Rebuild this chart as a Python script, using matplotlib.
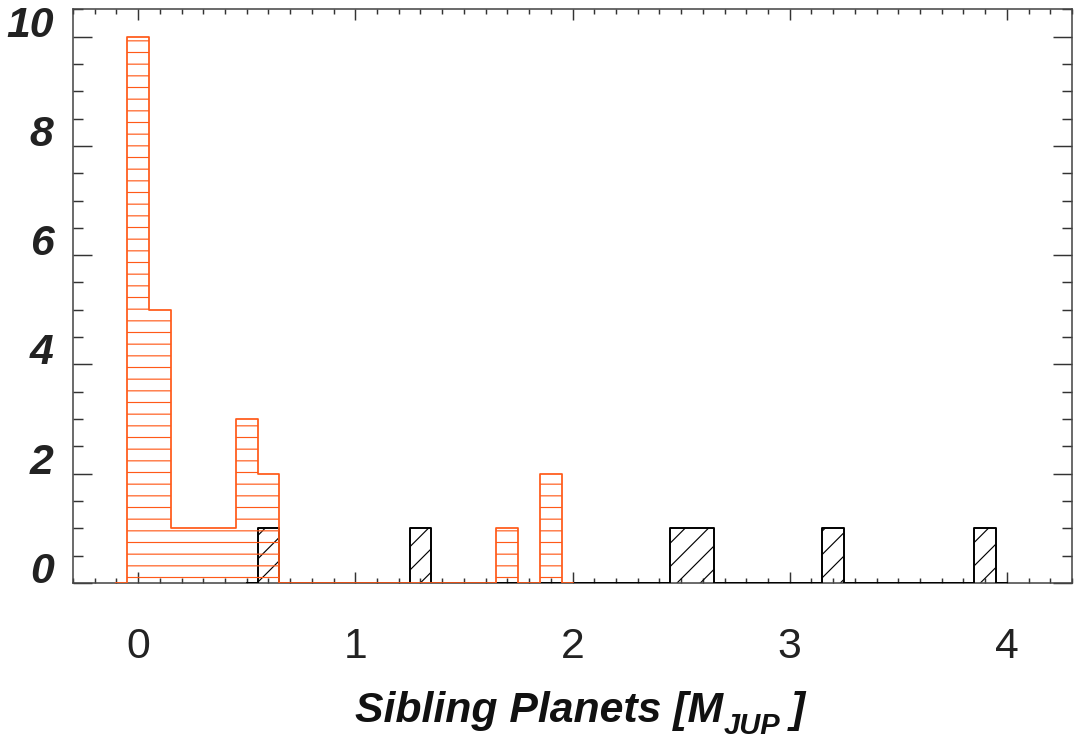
import matplotlib
matplotlib.use('Agg')
import matplotlib.pyplot as plt
import numpy as np
from matplotlib.ticker import MultipleLocator

plt.rcParams['font.family'] = ['Liberation Sans', 'DejaVu Sans']
plt.rcParams['hatch.linewidth'] = 0.6

# ---- data ----
bin_width = 0.1
orange_start = -0.1
orange_counts = [0, 10, 5, 1, 1, 1, 3, 2, 0, 0, 0, 0, 0, 0, 0, 0, 0, 0, 1, 0, 2, 0]
black_start = 0.5
black_counts = [0, 1, 0, 0, 0, 0, 0, 0, 1, 0, 0, 0, 0, 0, 0, 0, 0, 0, 0, 0,
                1, 1, 0, 0, 0, 0, 0, 1, 0, 0, 0, 0, 0, 0, 1, 0]
xtick_values = [0, 1, 2, 3, 4]
xtick_labels = ['0', '1', '2', '3', '4']
ytick_values = [0, 2, 4, 6, 8, 10]
ytick_labels = ['0', '2', '4', '6', '8', '10']
xlabel_main = 'Sibling Planets [M'
xlabel_sub = 'JUP'
xlabel_end = ' ]'

orange_x = orange_start + bin_width * np.arange(len(orange_counts))
black_x = black_start + bin_width * np.arange(len(black_counts))

ORANGE = '#FF5A19'
DPI = 140
W, H = 1077, 739
fig = plt.figure(figsize=(W / DPI, H / DPI), dpi=DPI)
ax = fig.add_axes([73 / W, 1 - 583 / H, (1072 - 73) / W, (583 - 9.3) / H])

# black histogram
ax.fill_between(black_x, black_counts, step='mid', facecolor='none',
                edgecolor='black', hatch='//', linewidth=0, zorder=2)
ax.step(black_x, black_counts, where='mid', color='black', lw=1.0, zorder=3)

# orange histogram
ax.fill_between(orange_x, orange_counts, step='mid', facecolor='none',
                edgecolor=ORANGE, hatch='--', linewidth=0, zorder=3.5)
ax.step(orange_x, orange_counts, where='mid', color=ORANGE, lw=0.9, zorder=4)

ax.set_xlim(-0.3, 4.3)
ax.set_ylim(0, 10.5)

ax.set_xticks(xtick_values)
ax.set_xticklabels(xtick_labels, fontsize=22, color='#222222')
ax.xaxis.set_minor_locator(MultipleLocator(0.1))
ax.set_yticks(ytick_values)
ax.set_yticklabels(ytick_labels, fontsize=22, fontweight='bold', fontstyle='italic',
                   color='#222222', va='baseline')
ax.yaxis.set_minor_locator(MultipleLocator(0.5))

ax.tick_params(which='both', direction='in', top=True, right=True,
               color='#333333', width=0.75)
ax.tick_params(axis='x', which='major', length=5.7, pad=22.6)
ax.tick_params(axis='x', which='minor', length=2.8)
ax.tick_params(axis='y', which='major', length=9.8, pad=10)
ax.tick_params(axis='y', which='minor', length=4.9)

for sp in ax.spines.values():
    sp.set_color('#444444')
    sp.set_linewidth(0.8)

# x-axis title with a lowered subscript, built from three text pieces
lab_kw = dict(fontweight='bold', fontstyle='italic', color='#111111', va='baseline', ha='left')
renderer = fig.canvas.get_renderer()
t1 = fig.text(355 / W, 1 - 722 / H, xlabel_main, fontsize=22, **lab_kw)
bb1 = t1.get_window_extent(renderer)
t2 = fig.text((bb1.x1 + 1) / W, 1 - 734 / H, xlabel_sub, fontsize=15, **lab_kw)
bb2 = t2.get_window_extent(renderer)
t3 = fig.text((bb2.x1 - 2) / W, 1 - 722 / H, xlabel_end, fontsize=22, **lab_kw)

fig.savefig('out.png', dpi=DPI)
